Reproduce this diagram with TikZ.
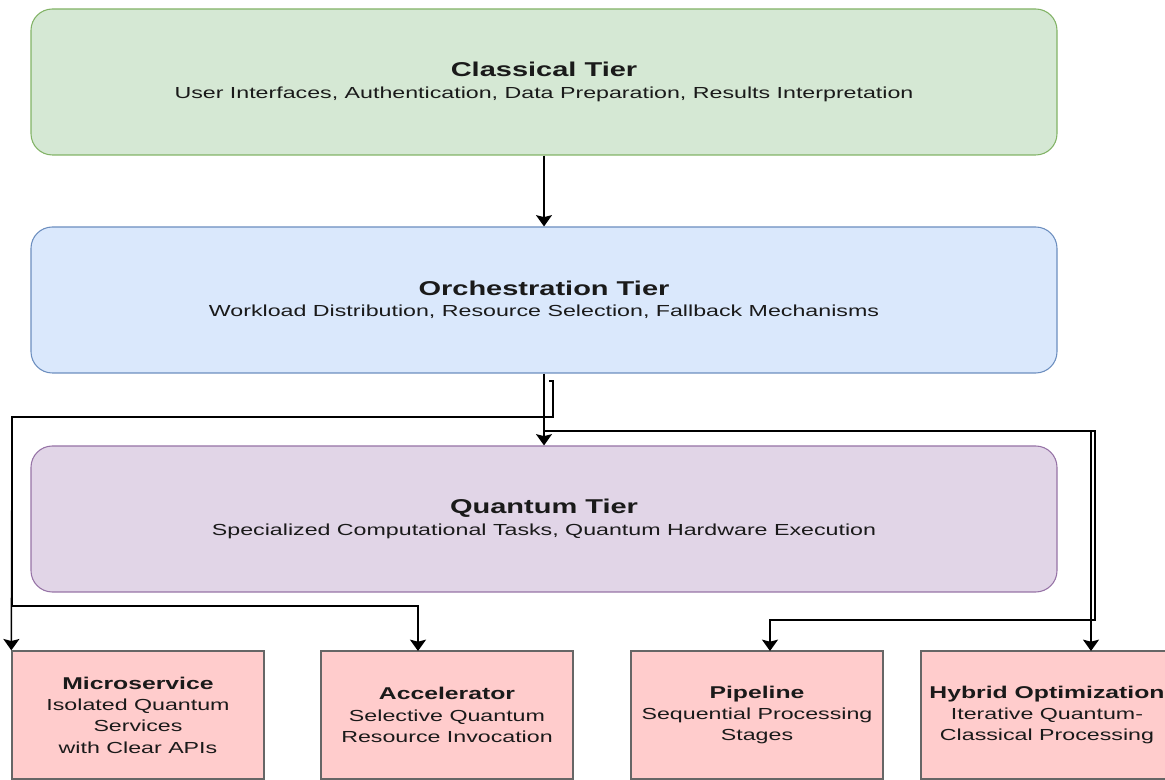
\documentclass[tikz,border=0pt]{standalone}
\usepackage{fontspec}
\setmainfont[FakeStretch=1.45]{Liberation Sans}
\usetikzlibrary{arrows.meta}
\definecolor{clsF}{HTML}{D5E8D4}
\definecolor{clsD}{HTML}{82B366}
\definecolor{orcF}{HTML}{DAE8FC}
\definecolor{orcD}{HTML}{6C8EBF}
\definecolor{qtF}{HTML}{E1D5E7}
\definecolor{qtD}{HTML}{9673A6}
\definecolor{patF}{HTML}{FFCCCC}
\definecolor{patD}{HTML}{666666}
\definecolor{txt}{HTML}{1A1A1A}
\begin{document}
\begin{tikzpicture}[x=0.75pt,y=-0.75pt,
  tier/.style={draw, rounded corners=16pt, minimum width=769.5pt, minimum height=109.5pt,
    inner sep=0pt, align=center, line width=0.8pt, text=txt,
    font=\fontsize{12}{16}\selectfont},
  pattern box/.style={draw=patD, fill=patF, minimum width=189pt, minimum height=96pt,
    inner sep=0pt, align=center, line width=1pt, text=txt,
    font=\fontsize{12}{16}\selectfont},
  conn/.style={line width=1.1pt, draw=black,
    -{Stealth[length=8.5pt,width=12pt,inset=1.5pt]}}]
\useasboundingbox (0,0) rectangle (1165,780);
\clip (0,0) rectangle (1165,780);

\node[tier, fill=clsF, draw=clsD] (cls) at (544,82)
  {{\fontsize{15}{16}\selectfont\bfseries Classical Tier}\\User Interfaces, Authentication, Data Preparation, Results Interpretation};
\node[tier, fill=orcF, draw=orcD] (orc) at (544,300)
  {{\fontsize{15}{16}\selectfont\bfseries Orchestration Tier}\\Workload Distribution, Resource Selection, Fallback Mechanisms};
\node[tier, fill=qtF, draw=qtD] (qt) at (544,519)
  {{\fontsize{15}{16}\selectfont\bfseries Quantum Tier}\\Specialized Computational Tasks, Quantum Hardware Execution};

\node[pattern box] (ms) at (138,715)
  {{\fontsize{12.8}{16}\selectfont\bfseries Microservice}\\Isolated Quantum\\Services\\with Clear APIs};
\node[pattern box] (acc) at (447,715)
  {{\fontsize{12.8}{16}\selectfont\bfseries Accelerator}\\Selective Quantum\\Resource Invocation};
\node[pattern box] (pip) at (757,715)
  {{\fontsize{12.8}{16}\selectfont\bfseries Pipeline}\\Sequential Processing\\Stages};
\node[pattern box] (hyb) at (1047,715)
  {{\fontsize{12.8}{16}\selectfont\bfseries Hybrid Optimization}\\Iterative Quantum-\\Classical Processing};

\coordinate (hook) at (549,381);
\coordinate (split) at (543,431);
\coordinate (accIn) at (418,651);
\coordinate (pipIn) at (770,651);
\coordinate (hybIn) at (1091,651);

\draw[conn] (cls.south) -- (orc.north);
\draw[conn] (orc.south) -- (qt.north);
\draw[conn] (hook) -- (553,381) -- (553,417) -- (12,417) -- (ms.north west);
\draw[conn] (hook) -- (553,381) -- (553,417) -- (12,417) -- (12,606) -| (accIn);
\draw[conn] (split) -| (hybIn);
\draw[conn] (split) -- (1095,431) -- (1095,620) -| (pipIn);
\end{tikzpicture}
\end{document}
